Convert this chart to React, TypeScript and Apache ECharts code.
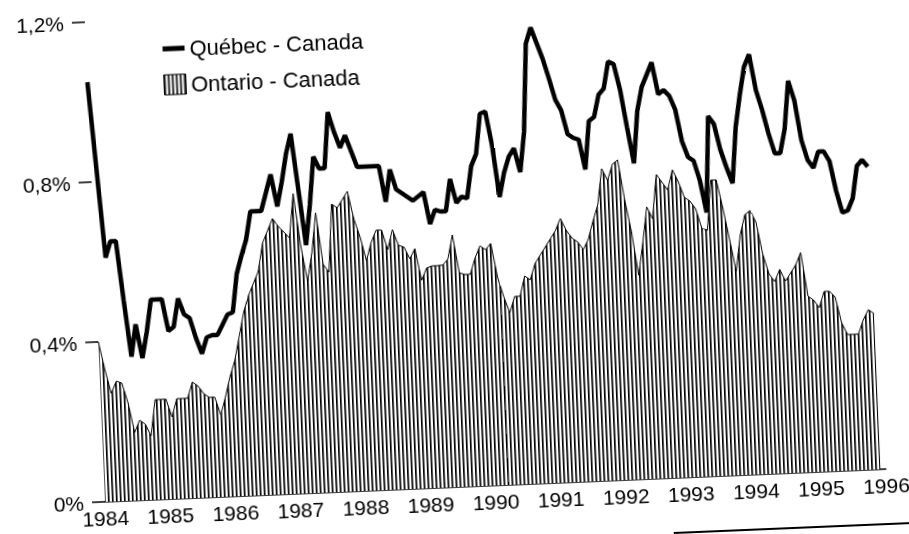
import React, { useEffect, useRef } from 'react';
import * as echarts from 'echarts';

// Monthly categories Jan 1984 .. Jan 1996
const months: string[] = [];
for (let y = 1984; y <= 1995; y++) {
  for (let m = 1; m <= 12; m++) months.push(`${y}-${String(m).padStart(2, '0')}`);
}
months.push('1996-01');

const seriesNames = ['Québec - Canada', 'Ontario - Canada'];

// Québec - Canada (%)
const quebec = [
  1.05, 0.83, 0.61, 0.65, 0.65, 0.50, 0.36, 0.44, 0.355, 0.42,
  0.50, 0.50, 0.50, 0.42, 0.43, 0.50, 0.46, 0.45, 0.40, 0.36,
  0.40, 0.405, 0.405, 0.43, 0.455, 0.46, 0.555, 0.60, 0.64, 0.71,
  0.71, 0.71, 0.755, 0.80, 0.72, 0.78, 0.85, 0.90, 0.76, 0.62,
  0.72, 0.84, 0.81, 0.81, 0.95, 0.90, 0.86, 0.89, 0.85, 0.81,
  0.81, 0.81, 0.81, 0.81, 0.72, 0.80, 0.75, 0.74, 0.73, 0.72,
  0.73, 0.74, 0.66, 0.695, 0.69, 0.69, 0.77, 0.71, 0.725, 0.72,
  0.80, 0.83, 0.93, 0.935, 0.85, 0.72, 0.78, 0.82, 0.84, 0.78,
  0.88, 1.10, 1.14, 1.10, 1.06, 1.01, 0.957, 0.93, 0.87, 0.86,
  0.855, 0.78, 0.90, 0.91, 0.965, 0.98, 1.047, 1.04, 0.975, 0.88,
  0.79, 0.92, 0.98, 1.01, 1.04, 0.96, 0.97, 0.955, 0.92, 0.84,
  0.80, 0.79, 0.74, 0.66, 0.90, 0.88, 0.815, 0.77, 0.73, 0.87,
  0.95, 1.02, 1.05, 0.96, 0.91, 0.85, 0.80, 0.80, 0.86, 0.98,
  0.93, 0.83, 0.78, 0.76, 0.80, 0.80, 0.775, 0.70, 0.645, 0.65,
  0.68, 0.76, 0.775, 0.757,
];

// Ontario - Canada (%)
const ontario = [
  0.40, 0.33, 0.27, 0.30, 0.295, 0.245, 0.17, 0.20, 0.19, 0.16,
  0.25, 0.25, 0.25, 0.205, 0.25, 0.25, 0.25, 0.29, 0.28, 0.26,
  0.25, 0.25, 0.205, 0.25, 0.30, 0.34, 0.40, 0.46, 0.50, 0.53,
  0.56, 0.63, 0.66, 0.69, 0.67, 0.655, 0.64, 0.75, 0.62, 0.53,
  0.60, 0.70, 0.57, 0.55, 0.72, 0.71, 0.73, 0.75, 0.68, 0.635,
  0.575, 0.62, 0.65, 0.65, 0.60, 0.65, 0.61, 0.605, 0.575, 0.60,
  0.52, 0.55, 0.555, 0.555, 0.556, 0.57, 0.63, 0.535, 0.53, 0.53,
  0.57, 0.60, 0.59, 0.605, 0.52, 0.47, 0.43, 0.47, 0.47, 0.52,
  0.51, 0.55, 0.57, 0.59, 0.61, 0.63, 0.66, 0.63, 0.61, 0.60,
  0.58, 0.605, 0.65, 0.69, 0.78, 0.75, 0.79, 0.80, 0.70, 0.62,
  0.51, 0.59, 0.68, 0.65, 0.76, 0.74, 0.72, 0.77, 0.74, 0.70,
  0.69, 0.67, 0.62, 0.615, 0.74, 0.74, 0.67, 0.59, 0.51, 0.60,
  0.65, 0.66, 0.63, 0.55, 0.50, 0.48, 0.51, 0.48, 0.50, 0.52,
  0.55, 0.44, 0.43, 0.41, 0.45, 0.45, 0.435, 0.37, 0.34, 0.34,
  0.34, 0.375, 0.40, 0.39,
];

const FONT = '"Liberation Sans", Arial, Helvetica, sans-serif';

function makeHatch() {
  const c = document.createElement('canvas');
  c.width = 4;
  c.height = 6;
  const ctx = c.getContext('2d')!;
  ctx.fillStyle = '#ffffff';
  ctx.fillRect(0, 0, 4, 6);
  ctx.fillStyle = '#000000';
  ctx.fillRect(0, 0, 1, 6);
  ctx.fillStyle = '#555555';
  ctx.fillRect(1, 0, 1, 6);
  return { image: c, repeat: 'repeat', imageWidth: 4, imageHeight: 6 } as any;
}

export default function App() {
  const ref = useRef<HTMLDivElement>(null);

  useEffect(() => {
    if (!ref.current) return;
    const chart = echarts.init(ref.current, undefined, { renderer: 'svg' });
    const hatch = makeHatch();

    chart.setOption({
      animation: false,
      backgroundColor: 'transparent',
      grid: { left: 105, right: 53.5, top: 22, bottom: 68, containLabel: false },
      legend: {
        orient: 'vertical',
        left: 181,
        top: 41,
        padding: 0,
        itemGap: 14,
        itemWidth: 22,
        itemHeight: 20,
        textStyle: { fontSize: 22, color: '#000', fontFamily: FONT },
        data: [
          {
            name: seriesNames[0],
            icon: 'path://M0,0M22,20M0,7.5H22V12.5H0Z',
            itemStyle: { color: '#000' },
          },
          {
            name: seriesNames[1],
            icon: 'rect',
            itemStyle: { color: hatch, borderColor: '#000', borderWidth: 1 },
          },
        ],
      },
      xAxis: {
        type: 'category',
        data: months,
        boundaryGap: false,
        axisLine: { show: true, lineStyle: { color: '#000', width: 1.5 } },
        axisTick: { show: false },
        splitLine: { show: false },
        axisLabel: {
          interval: (i: number) => i % 12 === 0,
          formatter: (v: string) => v.slice(0, 4),
          fontSize: 21,
          color: '#000',
          margin: 6,
          fontFamily: FONT,
        },
      },
      yAxis: {
        type: 'value',
        min: 0,
        max: 1.2,
        interval: 0.4,
        axisLine: { show: false },
        axisTick: { show: true, length: 13, lineStyle: { color: '#000', width: 1.5 } },
        splitLine: { show: false },
        axisLabel: {
          formatter: (v: number) => (v === 0 ? '0%' : v.toFixed(1).replace('.', ',') + '%'),
          fontSize: 21,
          color: '#000',
          margin: 21,
          fontFamily: FONT,
        },
      },
      graphic: [
        {
          type: 'line',
          shape: { x1: 672, y1: 557, x2: 940, y2: 557 },
          style: { stroke: '#000', lineWidth: 2 },
        },
      ],
      series: [
        {
          name: seriesNames[1],
          type: 'line',
          data: ontario,
          symbol: 'none',
          showSymbol: false,
          z: 1,
          lineStyle: { color: '#000', width: 1 },
          itemStyle: { color: '#000' },
          areaStyle: { color: hatch, opacity: 1 },
        },
        {
          name: seriesNames[0],
          type: 'line',
          data: quebec,
          symbol: 'none',
          showSymbol: false,
          z: 3,
          lineStyle: { color: '#000', width: 4.5 },
          itemStyle: { color: '#000' },
        },
      ],
    });

    return () => chart.dispose();
  }, []);

  return (
    <div
      ref={ref}
      style={{
        position: 'fixed',
        left: 0,
        top: 0,
        width: 940,
        height: 570,
        transformOrigin: '100px 502px',
        transform: 'rotate(-2.4deg)',
      }}
    />
  );
}
